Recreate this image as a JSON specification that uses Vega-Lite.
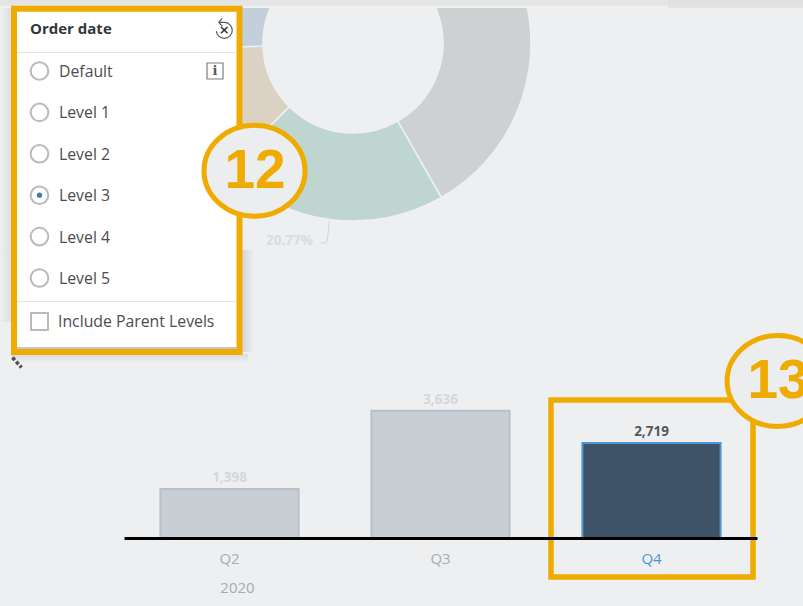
{
"$schema":"https://vega.github.io/schema/vega-lite/v6.json",
"width":803,"height":606,"padding":0,"autosize":{"type":"none"},
"background":"#edeff1",
"config":{"view":{"stroke":null},"font":"Open Sans"},
"datasets":{
"quarters":[{"quarter":"Q2","revenue":1398},{"quarter":"Q3","revenue":3636},{"quarter":"Q4","revenue":2719}],
"share":[{"slice":"A","pct":41.73},{"slice":"B","pct":20.77},{"slice":"C","pct":11.95},{"slice":"D","pct":25.55}],
"levels":[{"level":"Default","selected":false},{"level":"Level 1","selected":false},{"level":"Level 2","selected":false},{"level":"Level 3","selected":true},{"level":"Level 4","selected":false},{"level":"Level 5","selected":false}]
},
"resolve":{"scale":{"x":"independent","y":"independent","color":"independent","theta":"independent"}},
"layer":[
{"data":{"name":"share"},"mark":{"type":"arc","innerRadius":90,"outerRadius":178,"x":353,"y":43,"stroke":"#eef0f2","strokeWidth":1.5},
 "encoding":{"theta":{"field":"pct","type":"quantitative","stack":true},"order":{"field":"slice"},
 "color":{"field":"slice","type":"nominal","scale":{"domain":["A","B","C","D"],"range":["#cdd1d2","#bfd5cf","#dcd2c3","#c3d0dc"]},"legend":null}}},
{"mark":{"type":"rect","color":{"x1":0,"y1":0,"x2":0,"y2":1,"gradient":"linear","stops":[{"offset":0,"color":"#e3e3e3"},{"offset":1,"color":"#e6e6e6"}]}},"data":{"values":[{}]},"encoding":{"x":{"value":0},"x2":{"value":668},"y":{"value":0},"y2":{"value":6}}},
{"mark":{"type":"rect","color":"#eef0f2"},"data":{"values":[{}]},"encoding":{"x":{"value":0},"x2":{"value":668},"y":{"value":6},"y2":{"value":8}}},
{"mark":{"type":"rect","color":{"x1":0,"y1":0,"x2":0,"y2":1,"gradient":"linear","stops":[{"offset":0,"color":"#e0e0e0"},{"offset":1,"color":"#e3e3e3"}]}},"data":{"values":[{}]},"encoding":{"x":{"value":668},"x2":{"value":803},"y":{"value":0},"y2":{"value":8}}},
{"mark":{"type":"rect","color":{"x1":0,"y1":0,"x2":1,"y2":0,"gradient":"linear","stops":[{"offset":0,"color":"#eceef0"},{"offset":1,"color":"#dfe0e1"}]}},"data":{"values":[{}]},"encoding":{"x":{"value":0},"x2":{"value":11},"y":{"value":8},"y2":{"value":322}}},
{"mark":{"type":"rect","color":{"x1":0,"y1":0,"x2":1,"y2":0,"gradient":"linear","stops":[{"offset":0,"color":"#d3d4d5"},{"offset":1,"color":"#edeff1"}]}},"data":{"values":[{}]},"encoding":{"x":{"value":242},"x2":{"value":254},"y":{"value":250},"y2":{"value":352}}},
{"mark":{"type":"rect","color":{"x1":0,"y1":0,"x2":0,"y2":1,"gradient":"linear","stops":[{"offset":0,"color":"#d8d9da"},{"offset":1,"color":"#edeff1"}]}},"data":{"values":[{}]},"encoding":{"x":{"value":11},"x2":{"value":248},"y":{"value":354},"y2":{"value":362}}},
{"data":{"values":[{"label":"20.77%"}]},"mark":{"type":"text","x":289.5,"y":241,"font":"Open Sans","fontWeight":"bold","fontSize":13.5,"color":"#d9dcde"},"encoding":{"text":{"field":"label"}}},
{"data":{"values":[{}]},"mark":{"type":"point","x":324.7,"y":232,"shape":"M0.42,-1 L0.25,0.7 Q0.2,1 -0.1,1 L-0.42,1","size":484,"filled":false,"stroke":"#cfdedb","strokeWidth":1.2,"opacity":1},"encoding":{}},
{"data":{"name":"quarters"},"mark":{"type":"bar","strokeWidth":2},
 "encoding":{
 "x":{"field":"quarter","type":"nominal","sort":null,"scale":{"domain":["Q2","Q3","Q4"],"range":[124,757],"paddingInner":0.345,"paddingOuter":0.1725},
   "axis":{"offset":-68,"title":"2020","titleX":237,"titleY":42,"titleFontSize":15,"titleFontWeight":"normal","titleColor":"#a9abae","titleFont":"Open Sans","domainColor":"#000000","domainWidth":3,"ticks":false,"labelAngle":0,"labelPadding":13,"labelFontSize":15,"labelFont":"Open Sans","labelColor":{"condition":{"test":"datum.value==='Q4'","value":"#4b96d1"},"value":"#a9abae"},"zindex":1}},
 "y":{"field":"revenue","type":"quantitative","scale":{"domain":[-1945,15386],"nice":false,"zero":false},"axis":null},
 "color":{"field":"quarter","type":"nominal","scale":{"domain":["Q2","Q3","Q4"],"range":["#c9ced5","#c9ced5","#3f5368"]},"legend":null},
 "stroke":{"field":"quarter","type":"nominal","scale":{"domain":["Q2","Q3","Q4"],"range":["#b8c1cb","#b8c1cb","#4a9ad6"]},"legend":null}}},
{"data":{"name":"quarters"},"mark":{"type":"text","dy":-11,"fontSize":13.5,"fontWeight":"bold","font":"Open Sans"},
 "encoding":{
 "x":{"field":"quarter","type":"nominal","sort":null,"scale":{"domain":["Q2","Q3","Q4"],"range":[124,757],"paddingInner":0.345,"paddingOuter":0.1725},"axis":null},
 "y":{"field":"revenue","type":"quantitative","scale":{"domain":[-1945,15386],"nice":false,"zero":false},"axis":null},
 "text":{"field":"revenue","format":","},
 "color":{"field":"quarter","type":"nominal","scale":{"domain":["Q2","Q3","Q4"],"range":["#d5d7da","#d5d7da","#55585c"]},"legend":null}}},
{"data":{"values":[{}]},"mark":{"type":"rect","fill":"#ffffff","stroke":"#f0ab00","strokeWidth":6},"encoding":{"x":{"value":14},"x2":{"value":239.5},"y":{"value":8.7},"y2":{"value":352}}},
{"data":{"values":[{}]},"mark":{"type":"rule","color":"#c4c6c9","strokeWidth":2},"encoding":{"x":{"value":17},"x2":{"value":237},"y":{"value":348}}},
{"data":{"values":[{}]},"mark":{"type":"rule","color":"#e5e5e5","strokeWidth":1},"encoding":{"x":{"value":17},"x2":{"value":237},"y":{"value":52.5}}},
{"data":{"values":[{}]},"mark":{"type":"rule","color":"#e5e5e5","strokeWidth":1},"encoding":{"x":{"value":17},"x2":{"value":237},"y":{"value":301.5}}},
{"data":{"values":[{"label":"Order date"}]},"mark":{"type":"text","x":30,"y":29,"align":"left","font":"Open Sans","fontWeight":"bold","fontSize":15,"color":"#32363a"},"encoding":{"text":{"field":"label"}}},
{"data":{"name":"levels"},"mark":{"type":"point","x":39.5,"filled":false,"fill":"#ffffff","fillOpacity":1,"stroke":"#b8babc","strokeWidth":2,"size":310,"shape":"circle","opacity":1},
 "encoding":{"y":{"field":"level","type":"nominal","sort":null,"scale":{"type":"point","padding":0,"domain":["Default","Level 1","Level 2","Level 3","Level 4","Level 5"],"range":[71,278]},"axis":null}}},
{"data":{"name":"levels"},"transform":[{"filter":"datum.selected"}],"mark":{"type":"point","x":39.5,"filled":true,"color":"#427cac","opacity":1,"size":28,"shape":"circle"},
 "encoding":{"y":{"field":"level","type":"nominal","sort":null,"scale":{"type":"point","padding":0,"domain":["Default","Level 1","Level 2","Level 3","Level 4","Level 5"],"range":[71,278]},"axis":null}}},
{"data":{"name":"levels"},"mark":{"type":"text","x":59,"dy":1,"align":"left","font":"Open Sans","fontSize":15.8,"color":"#4a4d50"},
 "encoding":{"text":{"field":"level"},"y":{"field":"level","type":"nominal","sort":null,"scale":{"type":"point","padding":0,"domain":["Default","Level 1","Level 2","Level 3","Level 4","Level 5"],"range":[71,278]},"axis":null}}},
{"data":{"values":[{"label":"Include Parent Levels"}]},"mark":{"type":"text","x":58,"y":322,"align":"left","font":"Open Sans","fontSize":15.8,"color":"#4a4d50"},"encoding":{"text":{"field":"label"}}},
{"data":{"values":[{}]},"mark":{"type":"point","x":39.5,"y":321.5,"shape":"square","size":289,"filled":false,"stroke":"#b8babc","strokeWidth":2,"opacity":1},"encoding":{}},
{"data":{"values":[{}]},"mark":{"type":"point","x":215,"y":71,"shape":"square","size":256,"filled":false,"stroke":"#7a7d80","strokeWidth":1.2,"opacity":1},"encoding":{}},
{"data":{"values":[{"label":"i"}]},"mark":{"type":"text","x":215,"y":71,"font":"DejaVu Serif","fontWeight":"bold","fontSize":13,"color":"#55585c"},"encoding":{"text":{"field":"label"}}},
{"data":{"values":[{}]},"mark":{"type":"point","x":224.3,"y":30.3,"shape":"M0,-1 A1,1 0 1,1 -1,0.1 M0,-1 L-0.7,-1 M-0.7,-1 L-0.25,-1.5 M-0.7,-1 L-0.25,-0.5","size":256,"filled":false,"stroke":"#55585c","strokeWidth":1.2,"opacity":1},"encoding":{}},
{"data":{"values":[{"label":"×"}]},"mark":{"type":"text","x":224.3,"y":30.3,"font":"DejaVu Sans","fontWeight":"bold","fontSize":13,"color":"#33363a"},"encoding":{"text":{"field":"label"}}},
{"data":{"values":[{}]},"mark":{"type":"point","x":17,"y":362.5,"shape":"M-1,-1.1 L0,0 L1,1.1","size":81,"filled":false,"stroke":"#4d5054","strokeWidth":3.5,"strokeDash":[3.5,2],"opacity":1},"encoding":{}},
{"data":{"values":[{}]},"mark":{"type":"rect","fill":null,"stroke":"#f0ab00","strokeWidth":5.5},"encoding":{"x":{"value":551},"x2":{"value":753},"y":{"value":400},"y2":{"value":577}}},
{"data":{"values":[{}]},"mark":{"type":"point","x":254.5,"y":170.8,"filled":false,"opacity":1,"fill":"#ecedef","fillOpacity":1,"stroke":"#f0ab00","strokeWidth":5,"size":10201,"shape":"M-1,0 A1,0.9 0 1,1 1,0 A1,0.9 0 1,1 -1,0 Z"},"encoding":{}},
{"data":{"values":[{}]},"mark":{"type":"point","x":777.6,"y":381,"filled":false,"opacity":1,"fill":"#ecedef","fillOpacity":1,"stroke":"#f0ab00","strokeWidth":5,"size":10201,"shape":"M-1,0 A1,0.9 0 1,1 1,0 A1,0.9 0 1,1 -1,0 Z"},"encoding":{}},
{"data":{"values":[{"label":"12"}]},"mark":{"type":"text","x":255,"y":171,"font":"Liberation Sans","fontWeight":"bold","fontSize":55,"color":"#f0ab00"},"encoding":{"text":{"field":"label"}}},
{"data":{"values":[{"label":"13"}]},"mark":{"type":"text","x":778,"y":381,"font":"Liberation Sans","fontWeight":"bold","fontSize":55,"color":"#f0ab00"},"encoding":{"text":{"field":"label"}}}
]}
